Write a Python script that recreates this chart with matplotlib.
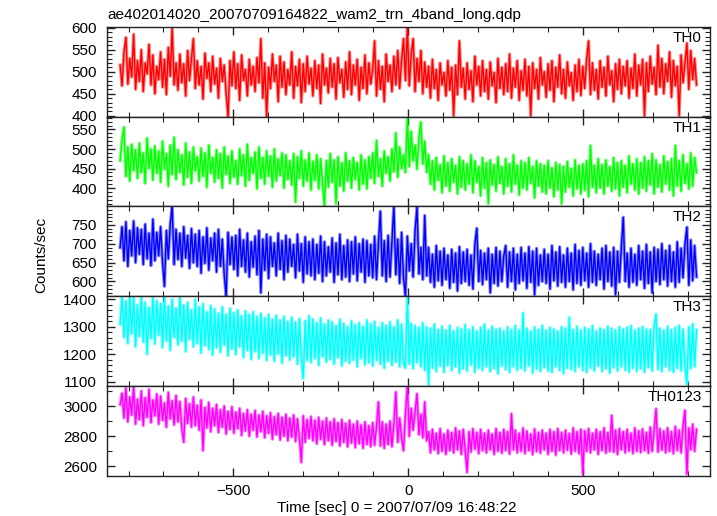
import numpy as np
import matplotlib
matplotlib.use("Agg")
import matplotlib.pyplot as plt
from matplotlib.ticker import MultipleLocator

plt.rcParams['font.family'] = ['Liberation Sans', 'DejaVu Sans']

TITLE = "ae402014020_20070709164822_wam2_trn_4band_long.qdp"
XLABEL = "Time [sec] 0 = 2007/07/09 16:48:22"
YLABEL = "Counts/sec"
T_START, T_END = -824, 824
XLIM = (-862, 862)

band_names = ["TH0", "TH1", "TH2", "TH3", "TH0123"]
band_colors = ["#ff0000", "#00ff00", "#0000ff", "#00ffff", "#ff00ff"]

th0 = [515, 468, 545, 578, 472, 530, 488, 585, 460, 525,
       478, 550, 455, 520, 495, 562, 470, 538, 450, 512,
       482, 545, 465, 528, 448, 555, 490, 600, 470, 520,
       458, 540, 475, 518, 445, 548, 480, 530, 575, 462,
       525, 470, 512, 438, 542, 485, 520, 455, 535, 472,
       508, 440, 530, 478, 515, 450, 398, 525, 468, 545,
       462, 518, 435, 538, 480, 505, 445, 528, 470, 512,
       455, 532, 475, 575, 440, 520, 398, 510, 462, 540,
       478, 515, 432, 535, 465, 522, 448, 505, 470, 545,
       440, 512, 468, 528, 430, 518, 455, 535, 472, 508,
       445, 525, 462, 515, 428, 540, 470, 508, 452, 530,
       465, 518, 438, 532, 475, 505, 442, 522, 460, 545,
       448, 515, 470, 528, 435, 510, 462, 538, 450, 520,
       472, 505, 570, 445, 525, 460, 512, 432, 540, 478,
       515, 455, 535, 470, 548, 462, 525, 575, 480, 602,
       468, 540, 575, 455, 530, 478, 548, 450, 522, 465,
       512, 440, 528, 462, 505, 435, 520, 470, 498, 445,
       525, 458, 510, 400, 515, 448, 570, 465, 508, 438,
       520, 460, 502, 432, 535, 470, 512, 445, 525, 455,
       505, 438, 522, 468, 498, 430, 530, 462, 510, 448,
       518, 455, 540, 440, 508, 465, 525, 435, 502, 458,
       528, 445, 512, 400, 520, 462, 505, 438, 532, 470,
       500, 442, 518, 458, 525, 432, 510, 465, 538, 450,
       505, 440, 522, 468, 498, 435, 515, 455, 528, 446,
       512, 462, 530, 570, 448, 520, 458, 505, 438, 525,
       465, 510, 445, 535, 470, 502, 432, 518, 460, 528,
       450, 512, 468, 525, 440, 508, 462, 540, 445, 515,
       470, 528, 400, 520, 455, 535, 472, 510, 448, 560,
       465, 530, 450, 518, 478, 545, 442, 525, 468, 512,
       400, 538, 475, 520, 565, 460, 548, 482, 530, 470]

th1 = [470, 525, 556, 430, 505, 418, 512, 445, 498, 425,
       515, 440, 490, 412, 528, 450, 500, 420, 508, 438,
       495, 415, 520, 448, 488, 405, 510, 435, 530, 422,
       498, 440, 485, 408, 515, 428, 492, 412, 505, 445,
       480, 418, 502, 430, 490, 402, 510, 438, 478, 415,
       498, 425, 488, 400, 505, 435, 482, 412, 495, 428,
       470, 410, 500, 432, 485, 405, 512, 420, 478, 438,
       492, 398, 505, 425, 478, 410, 495, 430, 482, 402,
       500, 418, 475, 432, 490, 400, 485, 422, 470, 408,
       488, 364, 480, 425, 495, 405, 472, 418, 490, 395,
       468, 420, 485, 398, 475, 412, 353, 470, 402, 488,
       415, 472, 360, 480, 405, 465, 392, 490, 418, 470,
       400, 478, 422, 465, 395, 485, 410, 472, 398, 480,
       425, 490, 412, 522, 430, 475, 405, 495, 438, 480,
       418, 500, 442, 541, 428, 505, 450, 485, 440, 582,
       455, 545, 470, 510, 448, 528, 569, 462, 520, 440,
       485, 410, 470, 395, 478, 420, 460, 388, 482, 405,
       465, 392, 475, 415, 458, 385, 480, 402, 470, 395,
       462, 410, 485, 388, 470, 415, 455, 380, 478, 400,
       465, 360, 472, 408, 460, 392, 480, 412, 455, 385,
       475, 405, 462, 390, 485, 410, 458, 382, 470, 400,
       465, 395, 478, 412, 455, 375, 470, 405, 462, 390,
       458, 385, 470, 400, 452, 378, 465, 395, 460, 360,
       455, 390, 468, 402, 450, 380, 472, 398, 458, 385,
       462, 395, 470, 378, 509, 402, 458, 388, 475, 400,
       460, 385, 472, 405, 455, 392, 478, 398, 465, 380,
       470, 402, 458, 388, 482, 410, 462, 395, 475, 385,
       465, 400, 480, 392, 470, 408, 488, 385, 472, 402,
       460, 390, 482, 410, 468, 395, 475, 380, 509, 405,
       470, 392, 485, 412, 462, 398, 490, 405, 478, 440]

th2 = [690, 745, 655, 758, 640, 735, 668, 760, 650, 742,
       672, 738, 645, 752, 660, 728, 642, 765, 655, 730,
       668, 745, 650, 587, 735, 660, 752, 800, 645, 738,
       658, 728, 640, 745, 662, 722, 635, 740, 650, 725,
       640, 735, 622, 718, 648, 742, 630, 715, 655, 728,
       625, 738, 640, 712, 618, 561, 730, 645, 718, 632,
       722, 615, 738, 640, 710, 625, 728, 612, 705, 638,
       720, 618, 735, 570, 712, 630, 725, 608, 718, 640,
       702, 615, 728, 632, 708, 605, 722, 625, 712, 640,
       698, 610, 725, 628, 700, 598, 718, 620, 705, 615,
       712, 605, 698, 622, 720, 600, 705, 615, 692, 625,
       715, 598, 702, 618, 725, 605, 695, 612, 710, 600,
       705, 620, 718, 602, 700, 625, 712, 598, 708, 615,
       698, 610, 720, 605, 702, 786, 615, 708, 600, 722,
       612, 705, 800, 618, 712, 595, 730, 610, 561, 720,
       628, 700, 612, 735, 797, 620, 690, 605, 775, 615,
       690, 598, 672, 585, 695, 602, 680, 590, 688, 605,
       670, 582, 685, 598, 675, 575, 692, 595, 678, 600,
       685, 590, 670, 580, 698, 741, 600, 682, 592, 675,
       605, 688, 570, 672, 595, 690, 588, 680, 600, 668,
       695, 585, 678, 600, 688, 578, 672, 595, 690, 602,
       675, 582, 692, 598, 680, 565, 688, 590, 670, 600,
       685, 595, 672, 580, 695, 602, 678, 588, 692, 598,
       670, 585, 688, 600, 675, 578, 698, 595, 682, 590,
       690, 602, 675, 585, 700, 598, 680, 590, 672, 605,
       688, 580, 695, 600, 678, 588, 690, 565, 680, 598,
       692, 770, 600, 675, 585, 688, 598, 672, 590, 695,
       605, 680, 582, 698, 595, 678, 570, 690, 600, 685,
       592, 700, 605, 682, 588, 695, 600, 678, 585, 705,
       598, 688, 610, 700, 744, 590, 710, 602, 695, 612]

th3 = [1310, 1412, 1262, 1395, 1240, 1405, 1275, 1412, 1228, 1380,
       1265, 1412, 1245, 1390, 1200, 1370, 1258, 1412, 1238, 1395,
       1270, 1385, 1225, 1412, 1250, 1375, 1215, 1400, 1262, 1368,
       1235, 1412, 1248, 1380, 1210, 1390, 1255, 1362, 1228, 1400,
       1240, 1372, 1205, 1385, 1232, 1355, 1218, 1378, 1198, 1365,
       1225, 1350, 1208, 1372, 1235, 1345, 1195, 1368, 1220, 1352,
       1200, 1362, 1228, 1340, 1190, 1358, 1215, 1345, 1182, 1355,
       1210, 1338, 1185, 1350, 1205, 1332, 1178, 1345, 1198, 1328,
       1175, 1342, 1202, 1325, 1168, 1338, 1195, 1320, 1180, 1335,
       1192, 1318, 1165, 1330, 1188, 1112, 1322, 1178, 1340, 1170,
       1328, 1185, 1315, 1160, 1332, 1192, 1310, 1172, 1325, 1182,
       1318, 1165, 1305, 1188, 1328, 1158, 1312, 1175, 1300, 1168,
       1322, 1180, 1308, 1155, 1315, 1185, 1302, 1162, 1325, 1170,
       1310, 1158, 1320, 1178, 1298, 1165, 1315, 1150, 1305, 1175,
       1318, 1160, 1300, 1172, 1325, 1155, 1310, 1168, 1150, 1412,
       1165, 1312, 1148, 1305, 1170, 1298, 1155, 1315, 1142, 1300,
       1090, 1295, 1150, 1310, 1138, 1290, 1158, 1302, 1135, 1288,
       1160, 1305, 1142, 1285, 1155, 1298, 1132, 1292, 1148, 1308,
       1140, 1290, 1162, 1300, 1135, 1285, 1150, 1298, 1142, 1310,
       1155, 1288, 1138, 1302, 1148, 1292, 1130, 1295, 1158, 1285,
       1145, 1300, 1135, 1290, 1155, 1305, 1142, 1288, 1150, 1351,
       1140, 1295, 1158, 1285, 1132, 1300, 1148, 1290, 1138, 1305,
       1152, 1288, 1140, 1298, 1135, 1292, 1155, 1285, 1142, 1300,
       1130, 1295, 1150, 1335, 1145, 1290, 1138, 1302, 1155, 1288,
       1142, 1298, 1135, 1292, 1150, 1305, 1140, 1285, 1158, 1295,
       1138, 1290, 1148, 1302, 1132, 1295, 1152, 1288, 1140, 1300,
       1155, 1292, 1142, 1298, 1135, 1305, 1150, 1288, 1138, 1295,
       1148, 1300, 1135, 1292, 1152, 1290, 1140, 1302, 1347, 1145,
       1295, 1138, 1288, 1155, 1302, 1142, 1290, 1135, 1298, 1150,
       1305, 1140, 1292, 1158, 1091, 1300, 1148, 1311, 1155, 1290]

th0123 = [3010, 3085, 2920, 3120, 2895, 3060, 2940, 3130, 2880, 3045,
          2910, 3100, 2870, 3055, 2925, 3110, 2890, 3040, 2935, 3080,
          2880, 3065, 2905, 3020, 2860, 3090, 2915, 3035, 2875, 3070,
          2895, 3030, 2850, 2760, 3050, 2885, 3015, 2860, 3060, 2870,
          3005, 2840, 3040, 2704, 2990, 2855, 3025, 2830, 2985, 2870,
          3010, 2825, 2975, 2860, 3000, 2815, 2965, 2845, 2995, 2820,
          2960, 2850, 2985, 2805, 2950, 2835, 2975, 2800, 2945, 2840,
          2970, 2795, 2940, 2830, 2965, 2790, 2935, 2820, 2955, 2780,
          2930, 2810, 2950, 2775, 2925, 2800, 2945, 2770, 2920, 2795,
          2940, 2765, 2915, 2790, 2627, 2935, 2760, 2910, 2785, 2930,
          2770, 2905, 2750, 2925, 2780, 2900, 2745, 2920, 2770, 2895,
          2740, 2915, 2765, 2890, 2735, 2910, 2760, 2885, 2730, 2905,
          2755, 2880, 2725, 2900, 2750, 2875, 2720, 2895, 2745, 2870,
          2730, 2890, 2740, 2865, 3027, 2735, 2895, 2720, 2880, 2745,
          2900, 2730, 2885, 3093, 2760, 2920, 2790, 2704, 2950, 3133,
          2800, 2985, 2840, 2960, 3082, 2810, 2945, 2790, 3027, 2770,
          2830, 2690, 2845, 2710, 2820, 2685, 2850, 2700, 2815, 2680,
          2840, 2705, 2825, 2690, 2855, 2710, 2835, 2680, 2845, 2700,
          2560, 2830, 2695, 2850, 2715, 2825, 2685, 2845, 2705, 2820,
          2690, 2840, 2710, 2815, 2680, 2850, 2700, 2825, 2688, 2845,
          2705, 2830, 2682, 2949, 2710, 2840, 2690, 2820, 2700, 2855,
          2685, 2835, 2705, 2815, 2678, 2848, 2698, 2825, 2688, 2840,
          2710, 2820, 2680, 2845, 2700, 2830, 2675, 2850, 2705, 2825,
          2690, 2840, 2708, 2818, 2682, 2855, 2700, 2830, 2685, 2845,
          2549, 2835, 2700, 2850, 2690, 2820, 2710, 2845, 2680, 2830,
          2705, 2855, 2688, 2825, 2700, 2938, 2695, 2840, 2680, 2850,
          2710, 2830, 2690, 2845, 2702, 2820, 2685, 2855, 2700, 2835,
          2692, 2848, 2705, 2825, 2688, 2860, 2700, 2840, 2982, 2695,
          2850, 2708, 2835, 2690, 2855, 2700, 2830, 2685, 2865, 2705,
          2840, 2690, 2870, 2971, 2549, 2855, 2710, 2880, 2700, 2845]

series = [th0, th1, th2, th3, th0123]
ylims = [(398, 602), (353, 583), (561, 799), (1085, 1412), (2538, 3133)]
ymajor = [50, 50, 50, 100, 200]
yminor = [10, 10, 10, 20, 100]

fig = plt.figure(figsize=(7.17, 5.16), dpi=100)
fig.subplots_adjust(left=0.149, right=0.990, top=0.948, bottom=0.078, hspace=0)
axes = fig.subplots(5, 1, sharex=True)

for ax, vals, name, col, yl, ymj, ymn in zip(axes, series, band_names, band_colors,
                                             ylims, ymajor, yminor):
    t = np.linspace(T_START, T_END, len(vals))
    ax.plot(t, vals, color=col, lw=2.4, alpha=0.45)
    ax.plot(t, vals, color=col, lw=1.0)
    ax.set_xlim(*XLIM)
    ax.set_ylim(*yl)
    ax.yaxis.set_major_locator(MultipleLocator(ymj))
    ax.yaxis.set_minor_locator(MultipleLocator(ymn))
    ax.xaxis.set_major_locator(MultipleLocator(500))
    ax.xaxis.set_minor_locator(MultipleLocator(100))
    ax.tick_params(which='both', direction='in', top=True, right=True,
                   labelsize=11, color='#222222')
    ax.tick_params(which='major', length=6, width=1)
    ax.tick_params(which='minor', length=3.5, width=0.8)
    ax.tick_params(axis='y', pad=7)
    ax.tick_params(axis='x', pad=6)
    for s in ax.spines.values():
        s.set_linewidth(1.0)
        s.set_color('#222222')
    ax.text(0.987, 0.955, name, transform=ax.transAxes, ha='right', va='top',
            fontsize=11)

fig.text(107 / 717, 1 - 19.5 / 516, TITLE, ha='left', va='baseline', fontsize=11)
fig.text(397 / 717, 1 - 508 / 516, XLABEL, ha='center', va='center', fontsize=11)
fig.text(41 / 717, 1 - 255 / 516, YLABEL, ha='center', va='center',
         rotation=90, fontsize=11)

fig.savefig("out.png", dpi=100)
